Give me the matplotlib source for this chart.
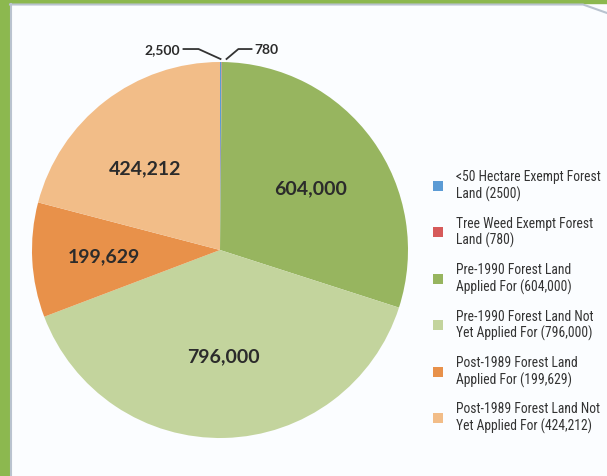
import matplotlib.pyplot as plt
from matplotlib.patches import Rectangle
from matplotlib.lines import Line2D
import numpy as np

# land areas (hectares)
labels = ["<50 Hectare Exempt Forest\nLand (2500)",
          "Tree Weed Exempt Forest\nLand (780)",
          "Pre-1990 Forest Land\nApplied For (604,000)",
          "Pre-1990 Forest Land Not\nYet Applied For (796,000)",
          "Post-1989 Forest Land\nApplied For (199,629)",
          "Post-1989 Forest Land Not\nYet Applied For (424,212)"]
values = [2500, 780, 604000, 796000, 199629, 424212]
inner_text = ["", "", "604,000", "796,000", "199,629", "424,212"]
colors = ["#5b9bd5", "#d65a5a", "#97b55f", "#c3d49d", "#e8914a", "#f2bd88"]

FONT = ["Lato", "DejaVu Sans"]
NARROW = ["Roboto Condensed", "Open Sans Condensed", "Liberation Sans Narrow", "Lato", "DejaVu Sans"]

W, H = 607, 477
fig = plt.figure(figsize=(W / 100, H / 100), dpi=100)
fig.patch.set_facecolor("#fbfdff")

# green frame + grey border
fig.patches.append(Rectangle((0, 0), 9 / W, 1, transform=fig.transFigure,
                             color="#8cb84f", zorder=0))
fig.patches.append(Rectangle((0, 1 - 4 / H), 1, 4 / H, transform=fig.transFigure,
                             color="#8cb84f", zorder=0))
fig.lines.append(Line2D([10.5 / W, 10.5 / W], [0, 1 - 5 / H], transform=fig.transFigure,
                        color="#b9c3cf", lw=1.5))
fig.lines.append(Line2D([10 / W, 583 / W, 1], [1 - 5.5 / H, 1 - 5.5 / H, 1 - 14 / H],
                        transform=fig.transFigure, color="#b9c3cf", lw=1.5))

R = 188
cx, cy = 220, H - 251
ax = fig.add_axes([(cx - 1.1 * R) / W, (cy - 1.1 * R) / H, 2.2 * R / W, 2.2 * R / H])
wedges, _ = ax.pie(values, colors=colors, startangle=90, counterclock=False,
                   wedgeprops=dict(linewidth=0))
ax.set_xlim(-1.1, 1.1)
ax.set_ylim(-1.1, 1.1)
ax.axis("off")

# labels inside the big slices
label_pos = {2: (0.48, 0.33), 3: (0.02, -0.56), 4: (-0.62, -0.03), 5: (-0.4, 0.44)}
for i, (x, y) in label_pos.items():
    ax.text(x, y, inner_text[i], ha="center", va="center", fontsize=14,
            fontweight="bold", color="#2b2b2b", family=FONT)

# leader lines for the two tiny slices
top = wedges[0].theta1
tx, ty = np.cos(np.radians(top)), np.sin(np.radians(top))
ly = 1.069
ax.plot([tx - 0.005, tx - 0.122, tx - 0.202], [ty + 0.016, ly, ly], color="#333333",
        lw=1.3, clip_on=False)
ax.plot([tx + 0.027, tx + 0.090, tx + 0.160], [ty + 0.016, ly, ly], color="#333333",
        lw=1.3, clip_on=False)
ax.text(tx - 0.218, ly, f"{values[0]:,}", ha="right", va="center", fontsize=10,
        fontweight="bold", color="#2b2b2b", family=FONT)
ax.text(tx + 0.176, ly, f"{values[1]:,}", ha="left", va="center", fontsize=10,
        fontweight="bold", color="#2b2b2b", family=FONT)

fig.legend(wedges, labels, loc="upper left", bbox_to_anchor=(421 / W, 1 - 158 / H),
           frameon=False, handlelength=0.75, handleheight=0.75, handletextpad=0.9,
           labelspacing=1.08, prop=dict(family=NARROW, size=9.8),
           labelcolor="#333333")

fig.savefig("out.png", dpi=100, facecolor=fig.get_facecolor())
